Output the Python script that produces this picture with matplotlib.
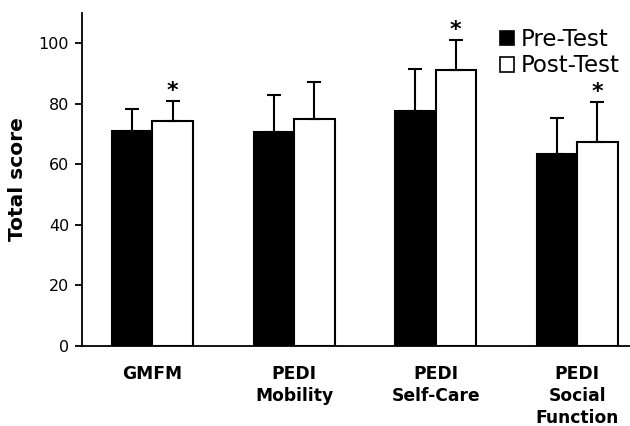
import matplotlib
matplotlib.use("Agg")
import matplotlib.pyplot as plt
import numpy as np
from matplotlib.patches import Patch

categories = ["GMFM", "PEDI\nMobility", "PEDI\nSelf-Care", "PEDI\nSocial\nFunction"]
pre_mean = [71.1, 70.5, 77.6, 63.3]
pre_sd = [7.0, 12.2, 13.8, 12.1]
post_mean = [74.4, 74.9, 91.2, 67.5]
post_sd = [6.5, 12.3, 9.9, 13.2]
post_sig = [True, False, True, True]
yticks = [0, 20, 40, 60, 80, 100]

fig = plt.figure(figsize=(6.3, 4.26), dpi=100)
ax = fig.add_axes([0.1297, 0.1878, 0.8703, 0.7822])

x = np.arange(len(categories))
w = 0.286
lw = 1.5
ekw = dict(elinewidth=lw, capthick=lw, capsize=4.7, ecolor="black")
ax.bar(x - w / 2, pre_mean, w, color="black", edgecolor="black", linewidth=lw,
       yerr=[np.zeros(len(pre_sd)), pre_sd], error_kw=ekw, zorder=2)
ax.bar(x + w / 2, post_mean, w, color="white", edgecolor="black", linewidth=lw,
       yerr=[np.zeros(len(post_sd)), post_sd], error_kw=ekw, zorder=2)

for xi, m, s, sig in zip(x, post_mean, post_sd, post_sig):
    if sig:
        ax.annotate("*", (xi + w / 2, m + s), xytext=(0, 0), textcoords="offset points",
                    ha="center", va="bottom", fontsize=16, fontweight="bold")

ax.set_xlim(-0.5, 3.373)
ax.set_ylim(0, 110)
ax.set_yticks(yticks)
ax.tick_params(axis="y", labelsize=11.5, length=5, width=1.3, direction="out", pad=4)
ax.set_xticks(x)
ax.set_xticklabels(categories, fontsize=12.3, fontweight="bold", linespacing=1.27, va="top")
ax.tick_params(axis="x", length=0, pad=14)
for sp in ["top", "right"]:
    ax.spines[sp].set_visible(False)
for sp in ["left", "bottom"]:
    ax.spines[sp].set_linewidth(1.3)
ax.set_ylabel("Total score", fontsize=14.5, fontweight="bold")
ax.yaxis.set_label_coords(-0.1, 0.5)

handles = [Patch(facecolor="black", edgecolor="black", linewidth=1.2, label="Pre-Test"),
           Patch(facecolor="white", edgecolor="black", linewidth=1.2, label="Post-Test")]
fig.legend(handles=handles, loc="upper left", bbox_to_anchor=(500 / 630, 1 - 28 / 426),
           frameon=False, fontsize=16.5, handlelength=0.6, handleheight=0.6,
           handletextpad=0.3, labelspacing=0.15, borderaxespad=0, borderpad=0)

fig.savefig("out.png", dpi=100)
